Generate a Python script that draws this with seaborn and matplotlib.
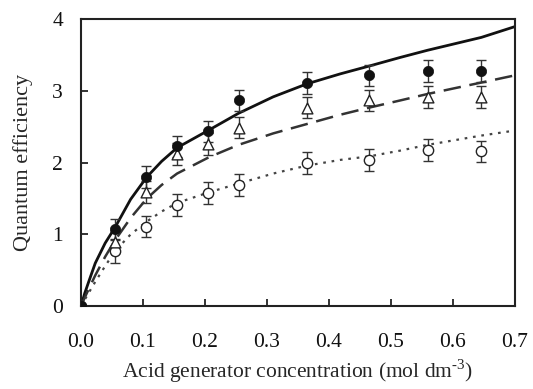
import matplotlib
matplotlib.use("Agg")
import matplotlib.pyplot as plt
import numpy as np
import pandas as pd
import seaborn as sns

# datos medidos (puntos con barras de error)
conc = [0.0, 0.055, 0.105, 0.155, 0.205, 0.255, 0.365, 0.465, 0.56, 0.645]
qe_filled = [0.0, 1.07, 1.80, 2.23, 2.44, 2.87, 3.11, 3.22, 3.28, 3.28]
qe_triangle = [0.0, 0.89, 1.59, 2.12, 2.26, 2.49, 2.77, 2.87, 2.92, 2.92]
qe_open = [0.0, 0.77, 1.11, 1.41, 1.58, 1.69, 2.00, 2.04, 2.18, 2.16]
err_filled = [0.0, 0.15, 0.15, 0.15, 0.15, 0.15, 0.15, 0.15, 0.15, 0.15]
err_triangle = [0.0, 0.15, 0.15, 0.15, 0.15, 0.15, 0.15, 0.15, 0.15, 0.15]
err_open = [0.0, 0.17, 0.15, 0.15, 0.15, 0.15, 0.15, 0.15, 0.15, 0.15]

# curvas
curve_x = [0.0, 0.006, 0.012, 0.023, 0.039, 0.055, 0.08, 0.106, 0.13, 0.155, 0.207,
           0.254, 0.31, 0.364, 0.418, 0.465, 0.515, 0.559, 0.646, 0.70]
curve_solid = [0.0, 0.18, 0.33, 0.60, 0.88, 1.10, 1.49, 1.80, 2.02, 2.21, 2.46,
               2.69, 2.92, 3.10, 3.24, 3.35, 3.47, 3.57, 3.75, 3.90]
curve_dashed = [0.0, 0.12, 0.23, 0.43, 0.69, 0.92, 1.23, 1.50, 1.69, 1.85, 2.08,
                2.25, 2.41, 2.54, 2.67, 2.77, 2.87, 2.96, 3.12, 3.22]
curve_dotted = [0.0, 0.09, 0.18, 0.34, 0.56, 0.77, 1.00, 1.18, 1.32, 1.44, 1.59,
                1.71, 1.85, 1.96, 2.04, 2.09, 2.17, 2.25, 2.38, 2.45]

sns.set_theme(style="ticks")
plt.rcParams["font.family"] = ["Liberation Serif", "DejaVu Serif"]
plt.rcParams["mathtext.fontset"] = "custom"
plt.rcParams["mathtext.rm"] = "Liberation Serif"

fig, ax = plt.subplots(figsize=(5.33, 3.89), dpi=100)
plt.subplots_adjust(left=0.152, right=0.966, top=0.950, bottom=0.213)

df_curves = pd.DataFrame({"x": curve_x, "solid": curve_solid,
                          "dashed": curve_dashed, "dotted": curve_dotted})
sns.lineplot(data=df_curves, x="x", y="solid", ax=ax, color="#111111", lw=2.0)
sns.lineplot(data=df_curves, x="x", y="dashed", ax=ax, color="#333333", lw=1.8,
             dashes=False).lines[-1].set_dashes([7, 3.5])
sns.lineplot(data=df_curves, x="x", y="dotted", ax=ax, color="#444444", lw=1.6,
             dashes=False).lines[-1].set_dashes([1.2, 2.6])

# barras de error
ax.errorbar(conc, qe_filled, yerr=err_filled, fmt="none", ecolor="#333333",
            elinewidth=1.0, capsize=3.5, capthick=1.0)
ax.errorbar(conc, qe_triangle, yerr=err_triangle, fmt="none", ecolor="#333333",
            elinewidth=1.0, capsize=3.5, capthick=1.0)
ax.errorbar(conc, qe_open, yerr=err_open, fmt="none", ecolor="#333333",
            elinewidth=1.0, capsize=3.5, capthick=1.0)

sns.scatterplot(x=conc, y=qe_open, ax=ax, marker="o", s=55, facecolor="white",
                edgecolor="#222222", linewidth=1.0, zorder=5)
sns.scatterplot(x=conc, y=qe_triangle, ax=ax, marker="^", s=60, facecolor="white",
                edgecolor="#222222", linewidth=1.0, zorder=5)
sns.scatterplot(x=conc, y=qe_filled, ax=ax, marker="o", s=55, color="#111111",
                edgecolor="#111111", linewidth=0.5, zorder=6)

ax.set_xlim(0, 0.7)
ax.set_ylim(0, 4)
ax.set_xticks(np.arange(0, 0.71, 0.1))
ax.set_xticklabels(["0.0", "0.1", "0.2", "0.3", "0.4", "0.5", "0.6", "0.7"])
ax.set_yticks([0, 1, 2, 3, 4])
ax.tick_params(axis="x", direction="in", length=5, width=1.2, pad=19, labelsize=15.5, colors="#111111")
ax.tick_params(axis="y", direction="in", length=5, width=1.2, pad=13, labelsize=15.5, colors="#111111")
for s in ax.spines.values():
    s.set_linewidth(1.5)
    s.set_color("#222222")

ax.set_xlabel("Acid generator concentration (mol dm$^{\\text{-3}}$)", fontsize=15.5, labelpad=4)
ax.set_ylabel("Quantum efficiency", fontsize=16, labelpad=14)

fig.savefig("out.png", dpi=100)
